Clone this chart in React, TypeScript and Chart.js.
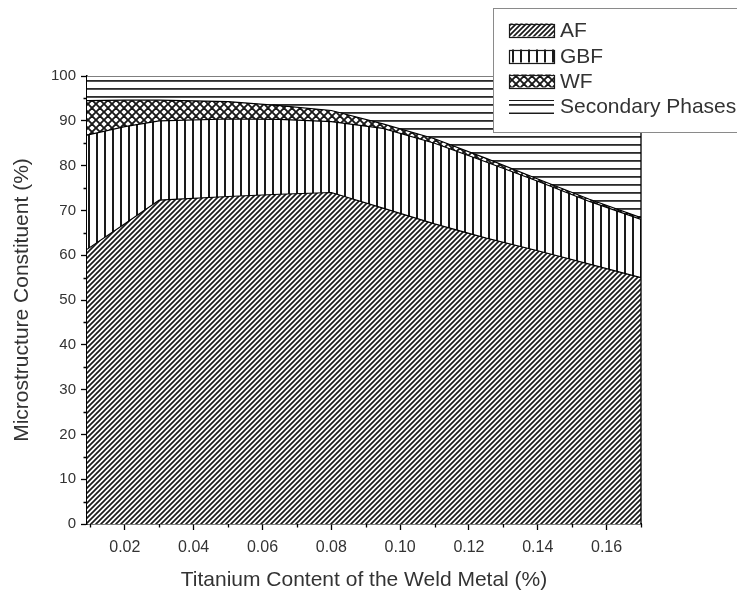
import { useEffect, useRef } from 'react';
import { Chart, registerables } from 'chart.js';

Chart.register(...registerables);

const xValues = [0.009, 0.02, 0.03, 0.05, 0.065, 0.08, 0.095, 0.11, 0.125, 0.14, 0.155, 0.17];
const afValues = [61.3, 67, 72.3, 73.1, 73.6, 74, 70.5, 67, 63.8, 61, 58, 55];
const gbfValues = [25.5, 21.7, 17.7, 17.3, 16.7, 15.8, 17.8, 18, 17, 15.5, 14, 13];
const wfValues = [7.7, 5.9, 4.6, 3.9, 3.1, 2.5, 1.0, 1.0, 0.8, 0.5, 0.5, 0.4];
const secondaryValues = [5.5, 5.4, 5.4, 5.7, 6.6, 7.7, 10.7, 14, 18.4, 23, 27.5, 31.6];

const seriesLabels = ['AF', 'GBF', 'WF', 'Secondary Phases'];
const seriesKinds = ['diag', 'vert', 'cross', 'horiz'];

const xTickValues = [0.02, 0.04, 0.06, 0.08, 0.1, 0.12, 0.14, 0.16];
const xMinorTickValues = [0.01, 0.03, 0.05, 0.07, 0.09, 0.11, 0.13, 0.15, 0.17];
const yTickValues = [0, 10, 20, 30, 40, 50, 60, 70, 80, 90, 100];
const yMinorTickValues = [5, 15, 25, 35, 45, 55, 65, 75, 85, 95];

const xTitle = 'Titanium Content of the Weld Metal (%)';
const yTitle = 'Microstructure Constituent (%)';

const FONT = "'Liberation Sans', Arial, sans-serif";

function makePattern(kind: string): CanvasPattern | string {
  const c = document.createElement('canvas');
  const ctx = c.getContext('2d');
  if (!ctx) return '#888';
  if (kind === 'diag') {
    c.width = 5; c.height = 5;
    ctx.fillStyle = '#fff'; ctx.fillRect(0, 0, 5, 5);
    ctx.strokeStyle = '#1a1a1a'; ctx.lineWidth = 1.7;
    ctx.beginPath();
    ctx.moveTo(-1, 6); ctx.lineTo(6, -1);
    ctx.moveTo(-1, 1); ctx.lineTo(1, -1);
    ctx.moveTo(4, 6); ctx.lineTo(6, 4);
    ctx.stroke();
  } else if (kind === 'vert') {
    c.width = 8; c.height = 8;
    ctx.fillStyle = '#fff'; ctx.fillRect(0, 0, 8, 8);
    ctx.fillStyle = '#1a1a1a'; ctx.fillRect(0, 0, 2, 8);
  } else if (kind === 'horiz') {
    c.width = 8; c.height = 8;
    ctx.fillStyle = '#fff'; ctx.fillRect(0, 0, 8, 8);
    ctx.fillStyle = '#2a2a2a'; ctx.fillRect(0, 0, 8, 1.8);
  } else {
    c.width = 8; c.height = 8;
    ctx.fillStyle = '#fff'; ctx.fillRect(0, 0, 8, 8);
    ctx.strokeStyle = '#1a1a1a'; ctx.lineWidth = 1.9;
    ctx.beginPath();
    ctx.moveTo(-1, -1); ctx.lineTo(9, 9);
    ctx.moveTo(-1, 9); ctx.lineTo(9, -1);
    ctx.moveTo(-1, 7); ctx.lineTo(1, 9);
    ctx.moveTo(7, -1); ctx.lineTo(9, 1);
    ctx.moveTo(-1, 1); ctx.lineTo(1, -1);
    ctx.moveTo(7, 9); ctx.lineTo(9, 7);
    ctx.stroke();
  }
  return ctx.createPattern(c, 'repeat') || '#888';
}

const minorTicksPlugin = {
  id: 'minorTicks',
  afterDraw(chart: any) {
    const { ctx, scales } = chart;
    const xs = scales.x;
    const ys = scales.y;
    ctx.save();
    ctx.strokeStyle = '#000';
    ctx.lineWidth = 1.3;
    ctx.beginPath();
    for (const v of yMinorTickValues) {
      const py = Math.round(ys.getPixelForValue(v)) + 0.5;
      ctx.moveTo(xs.left - 3.5, py);
      ctx.lineTo(xs.left, py);
    }
    for (const v of xMinorTickValues) {
      const px = Math.round(xs.getPixelForValue(v)) + 0.5;
      ctx.moveTo(px, ys.bottom);
      ctx.lineTo(px, ys.bottom + 3.5);
    }
    // right edge of the stacked areas
    const lastX = xs.getPixelForValue(xValues[xValues.length - 1]);
    ctx.moveTo(lastX, ys.getPixelForValue(0));
    ctx.lineTo(lastX, ys.getPixelForValue(100));
    ctx.stroke();
    ctx.restore();
  },
};

const legendBoxPlugin = {
  id: 'legendBox',
  afterDraw(chart: any) {
    const { ctx } = chart;
    const boxL = 493, boxT = 8, boxR = 745, boxB = 132;
    ctx.save();
    ctx.fillStyle = '#fff';
    ctx.fillRect(boxL, boxT, boxR - boxL, boxB - boxT);
    ctx.strokeStyle = '#8a8a8a';
    ctx.lineWidth = 1;
    ctx.strokeRect(boxL + 0.5, boxT + 0.5, boxR - boxL, boxB - boxT);
    const rowY = [30, 56, 81, 106];
    chart.data.datasets.forEach((ds: any, i: number) => {
      const cy = rowY[i];
      const sx = 509, sw = 45, sh = 13;
      const sy = cy - sh / 2;
      ctx.fillStyle = ds.backgroundColor;
      ctx.fillRect(sx, sy, sw, sh);
      ctx.strokeStyle = '#1a1a1a';
      ctx.lineWidth = 1.2;
      if (seriesKinds[i] === 'horiz') {
        ctx.beginPath();
        ctx.moveTo(sx, Math.round(sy) + 0.5); ctx.lineTo(sx + sw, Math.round(sy) + 0.5);
        ctx.moveTo(sx, Math.round(sy + sh) + 0.5); ctx.lineTo(sx + sw, Math.round(sy + sh) + 0.5);
        ctx.stroke();
      } else {
        ctx.strokeRect(sx + 0.5, Math.round(sy) + 0.5, sw, sh);
      }
      ctx.fillStyle = '#333';
      ctx.font = `21px ${FONT}`;
      ctx.textBaseline = 'middle';
      ctx.textAlign = 'left';
      ctx.fillText(ds.label, 560, cy + 1);
    });
    ctx.restore();
  },
};

export default function App() {
  const canvasRef = useRef<HTMLCanvasElement | null>(null);

  useEffect(() => {
    const canvas = canvasRef.current;
    if (!canvas) return;
    const seriesValues = [afValues, gbfValues, wfValues, secondaryValues];
    const datasets = seriesValues.map((vals, i) => ({
      label: seriesLabels[i],
      data: xValues.map((x, j) => ({ x, y: vals[j] })),
      backgroundColor: makePattern(seriesKinds[i]),
      borderColor: '#000',
      borderWidth: 1.2,
      pointRadius: 0,
      tension: 0,
      fill: i === 0 ? 'origin' : '-1',
    }));

    const chart = new Chart(canvas, {
      type: 'line',
      data: { datasets },
      options: {
        animation: false,
        responsive: false,
        devicePixelRatio: 1,
        layout: { padding: { top: 76, right: 96, left: 0, bottom: 0 } },
        plugins: {
          legend: { display: false },
          tooltip: { enabled: false },
          title: { display: false },
        },
        scales: {
          x: {
            type: 'linear',
            min: 0.009,
            max: 0.17,
            afterFit: (s: any) => { s.height = 70; },
            afterBuildTicks: (s: any) => { s.ticks = xTickValues.map((v) => ({ value: v })); },
            grid: { drawOnChartArea: false, drawTicks: true, tickLength: 6, color: '#000', tickWidth: 1.3 },
            border: { display: true, color: '#000', width: 1.5 },
            ticks: {
              color: '#333',
              font: { family: FONT, size: 16 },
              padding: 8,
              maxRotation: 0,
              autoSkip: false,
              callback: (v: any) => Number(v).toFixed(2),
            },
            title: {
              display: true,
              text: xTitle,
              color: '#333',
              font: { family: FONT, size: 21 },
              padding: { top: 0, bottom: 1 },
            },
          },
          y: {
            type: 'linear',
            stacked: true,
            min: 0,
            max: 100,
            afterFit: (s: any) => { s.width = 87; },
            afterBuildTicks: (s: any) => { s.ticks = yTickValues.map((v) => ({ value: v })); },
            grid: { drawOnChartArea: false, drawTicks: true, tickLength: 6, color: '#000', tickWidth: 1.3 },
            border: { display: true, color: '#000', width: 1.5 },
            ticks: {
              color: '#333',
              font: { family: FONT, size: 15 },
              padding: 5,
              autoSkip: false,
              callback: (v: any) => String(v),
            },
            title: {
              display: true,
              text: yTitle,
              color: '#333',
              font: { family: FONT, size: 21 },
              padding: { top: 10, bottom: 0 },
            },
          },
        },
      },
      plugins: [minorTicksPlugin, legendBoxPlugin],
    });
    return () => chart.destroy();
  }, []);

  return (
    <div style={{ position: 'absolute', left: 0, top: 0, width: 737, height: 594, background: '#fff' }}>
      <canvas ref={canvasRef} width={737} height={594} style={{ display: 'block' }} />
    </div>
  );
}
